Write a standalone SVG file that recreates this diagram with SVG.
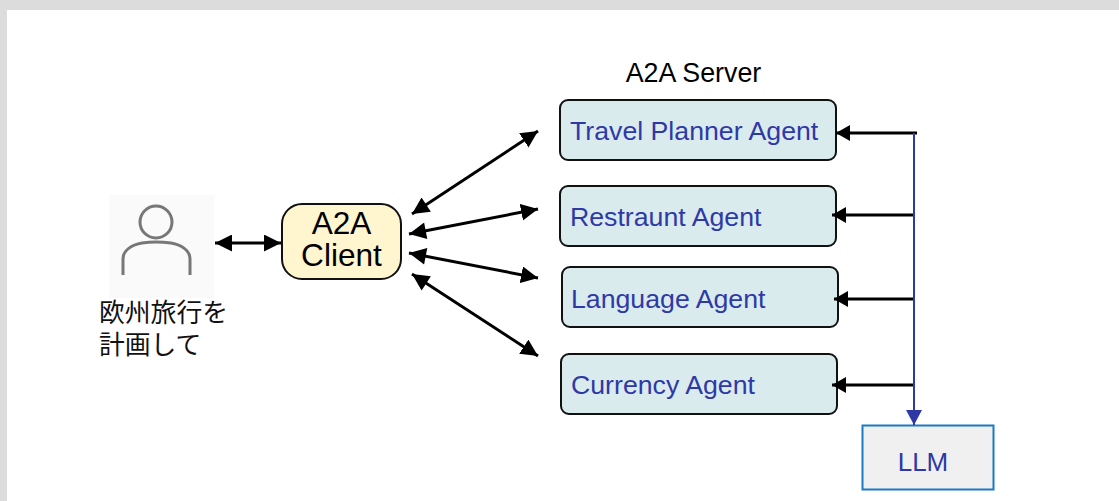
<svg xmlns="http://www.w3.org/2000/svg" width="1119" height="501" viewBox="0 0 1119 501">
<style>
.sans{font-family:"Liberation Sans",Arial,sans-serif}
.agent rect{fill:#daebee;stroke:#111;stroke-width:2}
.agent text{font-family:"Liberation Sans",Arial,sans-serif;font-size:26.700px;fill:#2f39a6}
.cjk{font-family:"Noto Sans CJK JP","Liberation Sans",sans-serif;font-size:25.800px;fill:#111}
.bk{stroke:#000;stroke-width:3;fill:none;marker-end:url(#ah);marker-start:url(#as)}
.one{stroke:#000;stroke-width:3;fill:none;marker-end:url(#ar)}
</style>
<defs>
<marker id="ah" markerUnits="userSpaceOnUse" markerWidth="18" markerHeight="18" refX="17" refY="8.500" orient="auto"><path d="M0 0L17 8.500L0 17Z" fill="#000"/></marker>
<marker id="as" markerUnits="userSpaceOnUse" markerWidth="18" markerHeight="18" refX="0" refY="8.500" orient="auto"><path d="M17 0L0 8.500L17 17Z" fill="#000"/></marker>
<marker id="ar" markerUnits="userSpaceOnUse" markerWidth="16" markerHeight="16" refX="14" refY="8" orient="auto"><path d="M0 0L14 8L0 16Z" fill="#000"/></marker>
<marker id="ab" markerUnits="userSpaceOnUse" markerWidth="16" markerHeight="16" refX="15" refY="8" orient="auto"><path d="M0 0L15 8L0 16Z" fill="#2f39a6"/></marker>
</defs>
<rect width="1119" height="501" fill="#dcdcdc"/>
<rect x="7" y="10" width="1112" height="491" fill="#fff"/>
<g id="user">
<rect x="109" y="195" width="105" height="103" fill="#fafafa"/>
<circle cx="156" cy="222" r="16" fill="none" stroke="#777" stroke-width="3"/>
<path d="M123 275V259C123 250 132 245 142 243Q156 241 171 243C181 245 190 250 190 259V275" fill="none" stroke="#777" stroke-width="3"/>
<text class="cjk" x="99" y="322">欧州旅行を</text>
<text class="cjk" x="99" y="354">計画して</text>
</g>
<g id="client">
<rect x="282" y="204" width="119" height="75" rx="20" fill="#fff6cf" stroke="#111" stroke-width="2"/>
<text class="sans" x="341.500" y="234" font-size="31.600" text-anchor="middle">A2A</text>
<text class="sans" x="341.500" y="266" font-size="31.600" text-anchor="middle">Client</text>
</g>
<text id="server-label" class="sans" x="693.500" y="82" font-size="26.800" text-anchor="middle">A2A Server</text>
<g id="travel" class="agent"><rect x="560" y="100" width="276" height="60" rx="8"/><text x="570" y="140">Travel Planner Agent</text></g>
<g id="restaurant" class="agent"><rect x="560" y="186" width="276" height="60" rx="8"/><text x="570" y="226">Restraunt Agent</text></g>
<g id="language" class="agent"><rect x="562" y="267" width="276" height="60" rx="8"/><text x="571" y="308">Language Agent</text></g>
<g id="currency" class="agent"><rect x="561" y="354" width="276" height="60" rx="8"/><text x="571" y="394">Currency Agent</text></g>
<g id="llm">
<rect x="862.500" y="425.500" width="131" height="64" fill="#f0f0f0" stroke="#1b7ac4" stroke-width="2"/>
<text class="sans" x="923" y="471" font-size="26" fill="#2f39a6" text-anchor="middle">LLM</text>
</g>
<g id="connectors">
<path class="bk" d="M215 243H281"/>
<path class="bk" d="M412 214L538 131"/>
<path class="bk" d="M409 234L538 209"/>
<path class="bk" d="M409 253L538 278"/>
<path class="bk" d="M412 274L538 356"/>
<path class="one" d="M917 133H836"/>
<path class="one" d="M914 215H832"/>
<path class="one" d="M914 299H834"/>
<path class="one" d="M914 385H832"/>
<path d="M914 133V425" stroke="#2f39a6" stroke-width="2" fill="none" marker-end="url(#ab)"/>
</g>
</svg>
